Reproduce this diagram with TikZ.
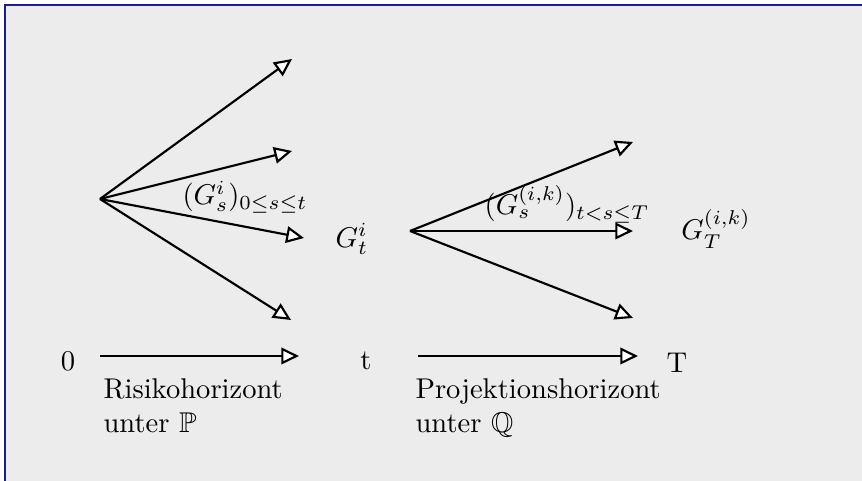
\documentclass[tikz,border=0pt]{standalone}
\usepackage{amsmath,amssymb}
\usepackage{tikz}
\usetikzlibrary{arrows.meta,positioning}
\usepackage{xcolor}
\definecolor{panelgray}{HTML}{ECECEC}
\definecolor{framenavy}{HTML}{1C1C9A}

\tikzset{
  pathtip/.style={-{Triangle[length=6.2pt,width=5.8pt,fill=white]},line width=0.75pt},
  mark label/.style={inner sep=0pt},
}

\begin{document}
\begin{tikzpicture}[x=0.35pt,y=-0.35pt]
  \useasboundingbox (0,0) rectangle (862,481);
  \fill[white] (0,0) rectangle (862,481);
  \fill[panelgray] (5,5) rectangle (862,481);
  \draw[framenavy,line width=1pt] (5,481) -- (5,5) -- (862,5);

  % fan from 0 to t
  \coordinate (start) at (100,199);
  \coordinate (p1) at (292,59);
  \coordinate (p2) at (292,151);
  \coordinate (p3) at (304,238);
  \coordinate (p4) at (291,320);
  \draw[pathtip] (start) -- (p1);
  \draw[pathtip] (start) -- (p2);
  \draw[pathtip] (start) -- (p3);
  \draw[pathtip] (start) -- (p4);
  \node[mark label] (histlabel) at (245,197) {$(G^i_s)_{0\leq s\leq t}$};
  \node[mark label] (gt) at (352,239) {$G^i_t$};

  % fan from t to T
  \coordinate (mid) at (410,231);
  \coordinate (q1) at (633,142);
  \coordinate (q2) at (633,231);
  \coordinate (q3) at (633,318);
  \draw[pathtip] (mid) -- (q1);
  \draw[pathtip] (mid) -- (q2);
  \draw[pathtip] (mid) -- (q3);
  \node[mark label] (projlabel) at (567,204) {$(G^{(i,k)}_s)_{t<s\leq T}$};
  \node[mark label] (gT) at (716,229) {$G^{(i,k)}_T$};

  % time axis
  \node (zero) at (68,361) {0};
  \node (tnow) at (366,361) {t};
  \node (tend) at (677,363) {T};
  \coordinate (r0) at (100,356);
  \coordinate (r1) at (299,356);
  \coordinate (s0) at (418,356);
  \coordinate (s1) at (638,356);
  \draw[pathtip] (r0) -- (r1);
  \draw[pathtip] (s0) -- (s1);
  \node[anchor=north west,align=left,inner sep=0pt] (risk) at (103,378) {Risikohorizont\\unter $\mathbb{P}$};
  \node[anchor=north west,align=left,inner sep=0pt] (proj) at (415,378) {Projektionshorizont\\unter $\mathbb{Q}$};
\end{tikzpicture}
\end{document}
